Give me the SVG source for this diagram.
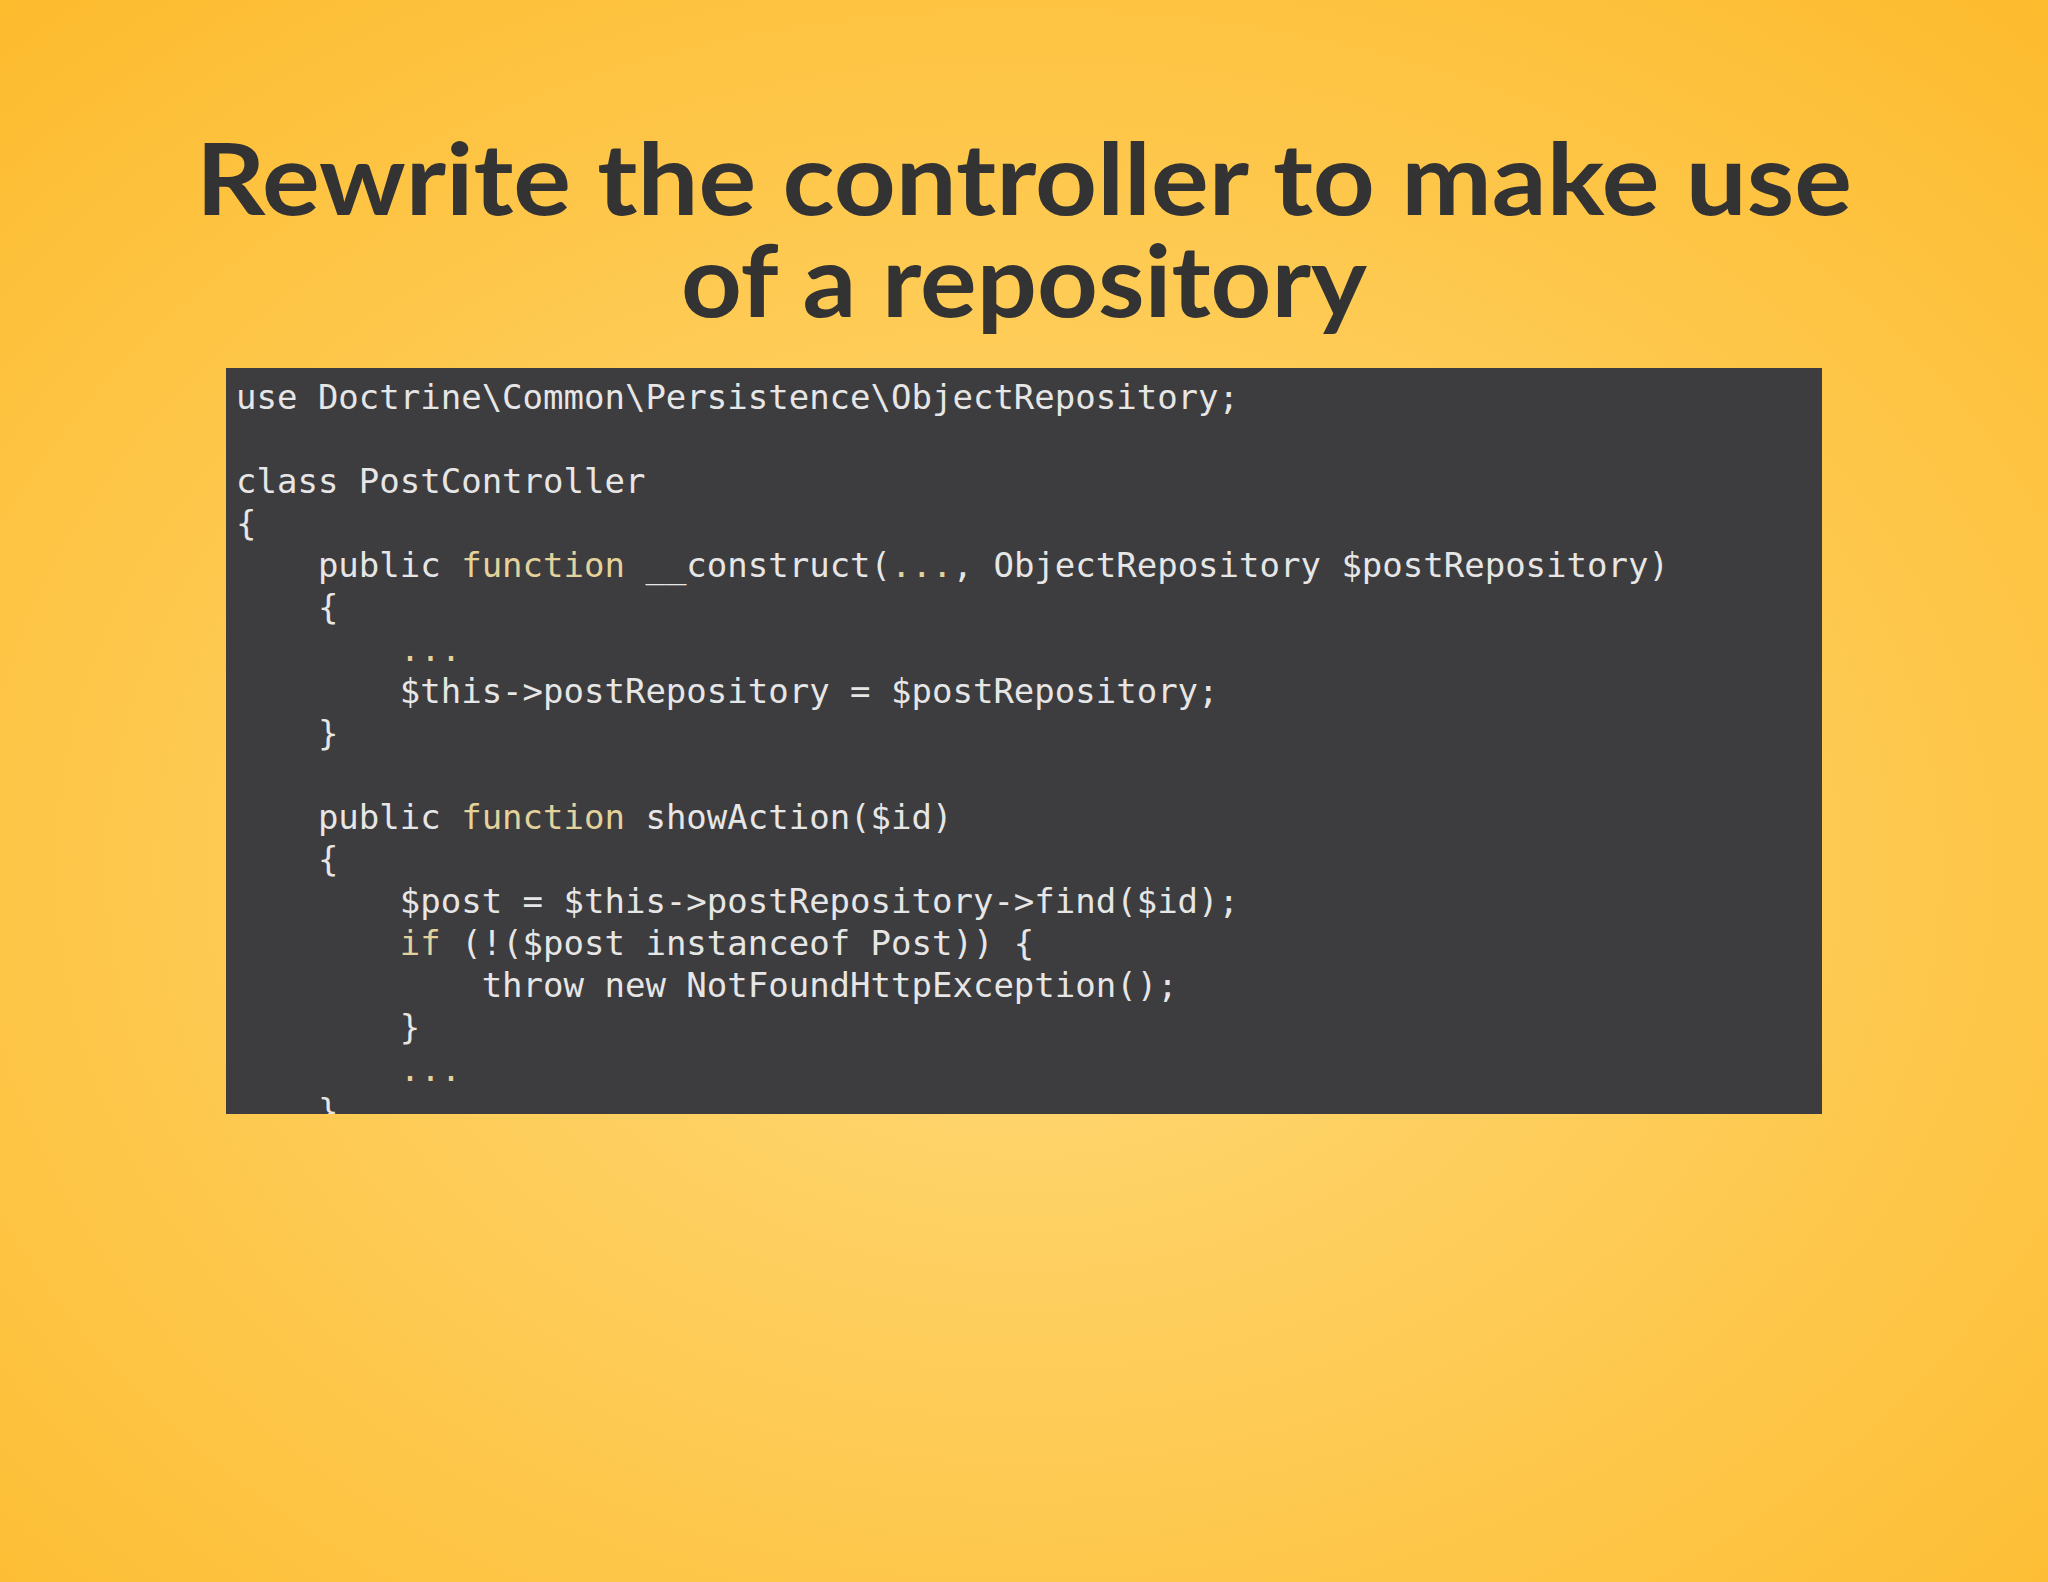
<svg xmlns="http://www.w3.org/2000/svg" width="2048" height="1582" viewBox="0 0 2048 1582">
<defs>
<radialGradient id="bg" cx="0.5" cy="0.55" r="0.75">
<stop offset="0" stop-color="#ffda7a"/>
<stop offset="1" stop-color="#fdbb2d"/>
</radialGradient>
<clipPath id="clip"><rect x="226" y="368" width="1596" height="746"/></clipPath>
<style>
.t{font-family:"Lato","Open Sans","Liberation Sans",sans-serif;font-weight:bold;font-size:100px;fill:#333333;text-anchor:middle}
.c{font-family:"DejaVu Sans Mono","Liberation Mono",monospace;font-size:34px;fill:#e6e6e6;white-space:pre}
.k{fill:#e3d29c}
</style>
</defs>
<rect width="2048" height="1582" fill="url(#bg)"/>
<g id="title">
<text class="t" x="1024" y="215" textLength="1656" lengthAdjust="spacingAndGlyphs">Rewrite the controller to make use</text>
<text class="t" x="1024" y="317" textLength="686" lengthAdjust="spacingAndGlyphs">of a repository</text>
</g>
<g id="code">
<rect x="226" y="368" width="1596" height="746" fill="#3d3c3e"/>
<g clip-path="url(#clip)">
<text class="c" x="236" y="409" xml:space="preserve">use Doctrine\Common\Persistence\ObjectRepository;</text>
<text class="c" x="236" y="493" xml:space="preserve">class PostController</text>
<text class="c" x="236" y="535" xml:space="preserve">{</text>
<text class="c" x="236" y="577" xml:space="preserve">    public <tspan class="k">function</tspan> __construct(<tspan class="k">...</tspan>, ObjectRepository $postRepository)</text>
<text class="c" x="236" y="619" xml:space="preserve">    {</text>
<text class="c" x="236" y="661" xml:space="preserve">        <tspan class="k">...</tspan></text>
<text class="c" x="236" y="703" xml:space="preserve">        $this-&gt;postRepository = $postRepository;</text>
<text class="c" x="236" y="745" xml:space="preserve">    }</text>
<text class="c" x="236" y="829" xml:space="preserve">    public <tspan class="k">function</tspan> showAction($id)</text>
<text class="c" x="236" y="871" xml:space="preserve">    {</text>
<text class="c" x="236" y="913" xml:space="preserve">        $post = $this-&gt;postRepository-&gt;find($id);</text>
<text class="c" x="236" y="955" xml:space="preserve">        <tspan class="k">if</tspan> (!($post instanceof Post)) {</text>
<text class="c" x="236" y="997" xml:space="preserve">            throw new NotFoundHttpException();</text>
<text class="c" x="236" y="1039" xml:space="preserve">        }</text>
<text class="c" x="236" y="1081" xml:space="preserve">        <tspan class="k">...</tspan></text>
<text class="c" x="236" y="1123" xml:space="preserve">    }</text>
</g>
</g>
</svg>
